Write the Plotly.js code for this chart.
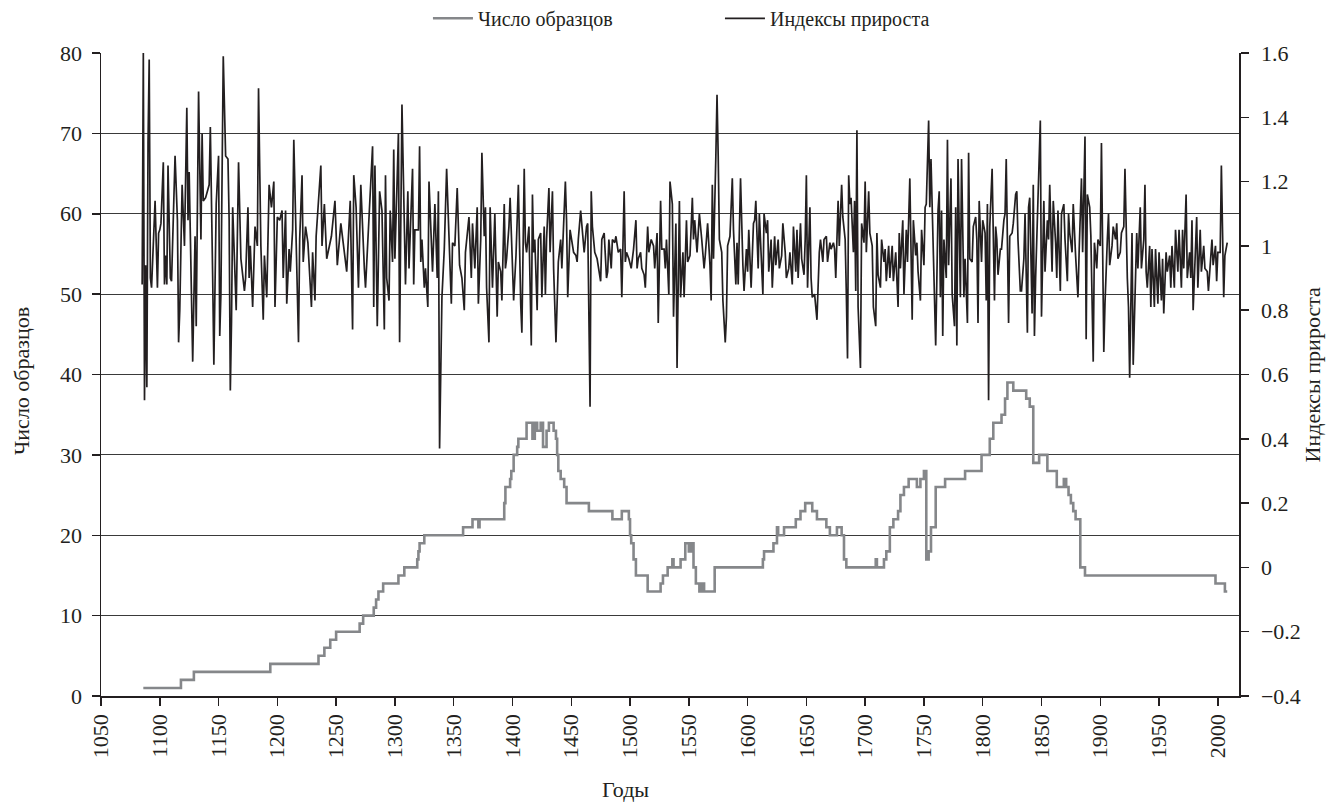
<!DOCTYPE html>
<html>
<head>
<meta charset="utf-8">
<script src="https://cdn.plot.ly/plotly-3.0.1.min.js"></script>
<style>html,body{margin:0;padding:0;background:#fff;}#chart{width:1328px;height:803px;}</style>
</head>
<body>
<div id="chart"></div>
<script>
// Sample count (step series, value holds until next change year)
const cntYears = [1086,1118,1129,1194,1235,1240,1245,1250,1270,1273,1282,1284,1286,1290,1303,1308,1319,1320,1321,1325,1358,1366,1371,1372,
1393,1394,1398,1399,1401,1404,1405,1412,1417,1419,1421,1424,1426,1429,1431,1435,1437,1438,1439,1441,1444,1446,1465,1485,1493,1499,1500,1501,1503,1505,1515,1526,1528,1532,1536,1537,1543,1547,1550,1552,1554,1556,1559,1561,1563,1572,
1613,1614,1622,1625,1626,1631,1641,1645,1649,1655,1659,1667,1670,1676,1680,1682,1684,1709,1710,1716,1718,1721,1724,1728,1730,1733,1737,1744,1747,1750,1752,1754,1756,1760,1768,1785,1799,1806,1809,1816,1819,1821,1826,1837,1840,1843,1848,1855,1863,1869,1871,1873,1875,1877,1879,1883,1887,1998,2006,2008];
const cntValues = [1,2,3,4,5,6,7,8,9,10,11,12,13,14,15,16,17,18,19,20,21,22,21,22,
24,26,27,28,30,31,32,34,32,34,33,34,31,33,34,33,32,30,28,27,26,24,23,22,23,22,20,19,17,15,13,14,15,16,17,16,17,19,18,19,16,14,13,14,13,16,
17,18,19,21,20,21,22,23,24,23,22,21,20,21,20,17,16,17,16,17,18,21,22,23,25,26,27,26,27,28,17,18,21,26,27,28,30,32,34,35,37,39,38,37,36,29,30,28,26,27,26,25,24,23,22,16,15,14,13,13];

// Growth indices (years and values read at the turning points of the curve)
const idxYears = [1085,1086,1087,1088,1089,1090,1091,1092,1093,1096,1098,1099,1100,1101,1103,1104,1105,1106,1107,1109,1110,1113,1115,1116,1117,1119,1121,1123,1124,1125,1128,1130,1131,1133,1135,1136,1137,1139,1142,1143,1145,1146,1148,1150,1151,1152,1154,1156,1158,1159,1160,1161,1162,1165,1167,1169,1172,1173,1175,1176,1177,1179,1181,1183,1184,1186,1188,1189,1191,1193,1195,1197,1198,1200,1202,1204,1205,1207,1208,1210,1211,1213,1214,1216,1218,1219,1221,1222,1224,1226,1229,1230,1232,1233,1237,1238,1240,1242,1246,1249,1251,1254,1256,1259,1262,1264,1265,1267,1269,1271,1274,1275,1281,1282,1283,1285,1287,1289,1291,1292,1293,1295,1296,1298,1299,1300,1303,1304,1306,1308,1309,
1311,1312,1315,1316,1317,1320,1321,1322,1323,1325,1326,1328,1329,1331,1332,1334,1336,1337,1338,1340,1342,1344,1345,1346,1348,1349,1351,1353,1355,1357,1359,1360,1361,1363,1365,1366,1368,1370,1371,1373,1374,1376,1377,1378,1380,1381,1383,1385,1387,1388,1390,1391,1393,1394,1395,1397,1398,1400,1401,1403,1405,1407,1408,1410,1411,1412,1414,1416,1417,1418,1419,1421,1422,1424,1425,1427,1428,1429,1431,1432,1434,1435,1437,1439,1441,1442,1444,1445,1446,1447,1449,1451,1452,1454,1455,1456,1458,1461,1463,1464,1466,1467,1468,1470,1472,1475,1476,1478,1480,1481,1482,1484,1485,1487,1488,1490,1492,1493,1495,1496,1497,1499,1501,1503,1505,1506,1507,1509,1510,1512,1513,1515,1516,1518,1520,1521,1523,1524,1526,1527,1529,1530,1531,1533,1534,1536,1537,1539,1540,
1542,1543,1545,1546,1548,1549,1551,1553,1554,1555,1557,1559,1561,1563,1564,1566,1568,1569,1570,1571,1573,1574,1575,1576,1578,1579,1581,1582,1583,1585,1587,1588,1590,1591,1592,1594,1596,1597,1599,1600,1601,1603,1605,1606,1607,1609,1610,1611,1613,1614,1616,1617,1618,1620,1621,1623,1624,1626,1627,1629,1630,1632,1633,1635,1636,1638,1639,1641,1642,1643,1645,1646,1648,1649,1650,1651,1653,1654,1655,1657,1658,1659,1661,1662,1664,1665,1667,1668,1670,1671,1673,1674,1675,1677,1678,1680,1681,1683,1684,1685,1686,1687,1688,1690,1691,1692,1693,1694,1696,1697,1699,1700,1701,1703,1704,1706,1707,1709,1710,1711,1713,1714,1716,1717,1718,1720,1721,1723,1724,1726,1728,1729,1730,1732,1733,1735,1736,1738,1740,1741,1743,1744,1745,1747,1748,1750,1751,1752,1754,1755,1756,1757,1759,1760,1762,1763,1764,1765,1766,1767,1769,1770,1771,
1773,1774,1776,1777,1778,1779,1781,1782,1784,1785,1787,1788,1789,1791,1792,1794,1795,1796,1797,1799,1800,1802,1803,1804,1805,1806,1808,1810,1811,1812,1813,1815,1816,1818,1819,1820,1822,1823,1825,1826,1828,1829,1830,1832,1833,1835,1836,1838,1839,1840,1842,1843,1844,1845,1846,1847,1849,1850,1852,1853,1855,1856,1857,1859,1860,1862,1863,1864,1866,1867,1869,1870,1872,1873,1874,1876,1877,1879,1881,1882,1884,1885,1887,1888,1889,1891,1892,1894,1895,1897,1898,1900,1901,1903,1904,1906,1907,1908,1910,1911,1913,1914,1915,1917,1918,1920,1921,1923,1924,1925,1927,1928,1930,1931,1932,1934,1935,1937,1938,1939,1940,1942,1943,1944,1946,1947,1949,1950,1952,1953,1954,1956,1957,1959,1960,1961,1963,1964,1966,1967,1969,1970,1971,1973,1974,1976,1977,1978,1979,1981,1982,1983,1985,1986,1988,1989,1991,1992,1993,1995,1996,1998,1999,2000,2002,2003,2005,2006,2008];
const idxValues = [0.88,1.60,0.52,0.94,0.56,1.32,1.58,0.90,0.87,1.14,0.87,1.04,1.05,1.07,1.26,0.88,0.97,0.88,1.25,0.90,0.89,1.28,1.08,0.70,0.80,1.19,1.00,1.43,1.08,1.23,0.64,1.03,0.75,1.48,1.02,1.35,1.14,1.15,1.19,1.37,0.90,0.63,1.13,1.28,0.72,0.85,1.59,1.28,1.27,1.08,0.55,0.76,1.12,0.80,1.26,0.96,0.86,0.90,1.12,0.90,1.00,0.81,1.06,1.00,1.49,1.00,0.77,0.97,0.84,1.19,1.12,1.20,0.81,1.09,1.08,1.11,0.90,1.11,0.82,0.99,0.92,1.05,1.33,1.02,0.70,1.02,1.22,0.95,1.06,1.01,0.81,0.98,0.83,1.03,1.25,1.00,1.13,0.96,1.03,1.14,0.94,1.07,1.01,0.92,1.14,0.74,1.22,1.12,0.87,1.19,0.93,0.87,1.31,0.81,1.25,0.75,1.17,1.11,0.74,1.22,0.90,0.83,1.11,0.95,1.30,0.96,1.35,0.70,1.44,1.07,0.88,
1.17,0.93,1.24,0.88,1.05,1.05,1.31,0.95,1.02,0.87,0.93,0.81,1.20,1.01,0.92,1.13,0.90,1.17,0.37,0.84,0.99,1.24,1.12,0.99,0.82,1.01,1.00,1.18,0.94,0.90,0.80,0.98,1.02,1.09,0.90,1.07,0.93,1.12,0.82,1.02,1.29,1.03,1.12,0.87,0.70,1.12,0.87,1.10,0.78,0.95,0.92,0.83,1.13,0.93,0.96,1.06,1.15,0.93,0.83,0.97,1.19,0.82,0.73,1.24,1.01,0.98,1.06,0.69,1.16,0.98,1.02,0.80,1.02,1.04,0.84,1.06,0.85,1.02,1.18,0.98,1.17,0.93,0.70,0.95,1.02,0.93,1.12,1.20,1.08,0.84,1.05,1.01,0.98,0.97,0.95,1.02,1.11,0.98,1.06,1.07,0.50,1.17,1.06,0.98,0.96,0.89,1.02,1.04,0.90,0.92,1.02,0.93,1.02,1.01,1.03,0.98,0.99,0.84,1.17,0.95,0.98,0.96,0.93,0.99,1.08,0.93,0.96,0.98,0.93,0.91,0.87,1.06,0.98,1.02,1.00,0.93,1.04,0.76,1.14,0.99,0.99,0.93,1.02,0.85,1.20,1.13,0.78,1.07,0.62,
1.14,0.84,0.98,0.84,1.08,0.95,0.97,1.15,1.02,1.08,0.98,1.10,1.02,0.93,0.97,1.07,0.94,0.83,1.19,0.96,1.28,1.47,1.28,1.02,0.98,0.83,0.70,0.78,1.00,1.03,1.21,1.05,0.88,1.01,0.88,1.21,0.94,0.86,0.99,0.92,1.05,0.87,1.07,1.08,1.14,0.93,1.10,1.02,0.85,1.10,1.04,1.08,0.92,1.02,0.87,1.03,0.94,1.02,0.93,0.97,1.07,0.98,0.90,0.93,0.98,0.88,1.06,0.92,1.05,0.90,1.07,0.96,0.91,1.02,1.22,0.87,1.12,0.90,0.84,0.85,0.81,0.77,0.98,1.02,0.95,1.02,1.03,0.95,1.01,0.99,1.01,0.99,0.90,1.14,1.00,1.19,1.09,1.02,0.85,0.65,1.22,1.13,1.15,0.98,1.14,0.86,1.36,0.81,0.62,1.07,1.01,1.20,0.98,1.17,1.04,1.00,0.81,0.75,1.04,0.91,0.87,1.02,0.95,0.99,0.89,1.00,0.90,1.00,0.89,0.98,0.81,1.04,0.93,1.08,0.85,1.05,0.95,1.21,0.77,1.08,0.97,1.01,0.92,0.83,1.05,0.94,1.12,1.13,1.39,1.12,1.27,1.12,0.85,0.69,1.11,1.17,0.84,1.11,0.72,1.02,0.90,1.33,0.94,
1.21,0.85,0.75,1.12,0.69,1.27,0.84,1.27,0.84,0.96,0.76,1.29,0.96,0.95,1.06,1.09,1.02,0.76,1.14,0.95,1.08,1.04,0.83,1.13,0.52,1.06,1.24,0.83,1.06,1.02,0.91,0.99,0.99,1.08,1.10,1.27,0.76,1.03,1.04,1.07,1.16,1.17,1.02,0.86,0.86,0.96,1.10,0.73,1.12,1.15,0.79,1.19,0.72,0.90,1.03,1.19,1.39,0.78,1.14,0.92,1.08,1.02,1.19,0.92,1.14,1.01,0.90,1.11,0.86,1.10,1.13,1.02,0.89,1.10,1.04,0.98,1.13,0.97,0.84,0.98,1.21,0.98,1.34,0.71,1.16,1.12,1.03,0.64,1.01,0.93,1.02,1.00,1.32,0.67,0.82,1.02,1.10,0.94,1.00,1.06,1.02,1.07,0.96,0.98,1.04,1.06,1.24,0.90,0.81,0.59,1.04,0.63,0.97,1.04,0.93,1.12,0.93,1.02,1.19,0.92,0.87,1.00,0.81,0.99,0.81,0.99,0.82,0.98,0.83,0.96,0.79,0.98,0.92,0.97,0.87,1.00,0.87,1.05,0.92,1.05,0.87,1.05,0.93,1.16,0.90,0.98,0.90,1.08,0.80,1.00,1.09,0.87,1.05,0.92,1.00,0.93,0.92,0.86,0.92,1.02,0.94,1.00,0.89,0.98,0.98,1.25,0.84,0.97,1.01];

// Axis tick settings
const xTickStart = 1050, xTickStep = 50;
const yLeftStep = 10, yRightStep = 0.2;

const INK = '#231f20';
const FONT = 'Liberation Serif, "Times New Roman", serif';

const traces = [
  {
    x: cntYears, y: cntValues, type: 'scatter', mode: 'lines',
    line: {shape: 'hv', color: '#85878a', width: 2.6},
    name: 'Число образцов', yaxis: 'y'
  },
  {
    x: idxYears, y: idxValues, type: 'scatter', mode: 'lines',
    line: {color: INK, width: 1.7},
    name: 'Индексы прироста', yaxis: 'y2'
  }
];

const layout = {
  width: 1328, height: 803,
  margin: {l: 101, r: 89, t: 53, b: 107, pad: 0, autoexpand: false},
  paper_bgcolor: '#ffffff', plot_bgcolor: '#ffffff',
  font: {family: FONT, color: INK, size: 20},
  showlegend: true,
  legend: {
    orientation: 'h', x: 0.2873, xanchor: 'left', y: 1.054, yanchor: 'middle',
    font: {family: FONT, size: 20, color: INK}, entrywidth: 237, itemwidth: 40,
    bgcolor: 'rgba(0,0,0,0)'
  },
  xaxis: {
    range: [1050, 2018], tick0: xTickStart, dtick: xTickStep, tickangle: -90,
    ticks: 'outside', ticklen: 8, tickwidth: 1.5, tickcolor: INK,
    showline: true, linecolor: INK, linewidth: 1.5, showgrid: false, zeroline: false,
    tickfont: {family: FONT, size: 22, color: INK}
  },
  yaxis: {
    range: [0, 80], tick0: 0, dtick: yLeftStep,
    ticks: 'outside', ticklen: 8, tickwidth: 1.5, tickcolor: INK, ticklabelstandoff: 5,
    showline: true, linecolor: INK, linewidth: 1.5,
    showgrid: true, gridcolor: '#3a3a3a', gridwidth: 1, zeroline: false,
    tickfont: {family: FONT, size: 22, color: INK}
  },
  yaxis2: {
    range: [-0.4, 1.6], tick0: -0.4, dtick: yRightStep, overlaying: 'y', side: 'right',
    ticks: 'outside', ticklen: 8, tickwidth: 1.5, tickcolor: INK, ticklabelstandoff: 8,
    showline: true, linecolor: INK, linewidth: 1.5, showgrid: false, zeroline: false,
    tickfont: {family: FONT, size: 22, color: INK}
  },
  annotations: [
    {text: 'Число образцов', xref: 'paper', yref: 'paper', x: -0.0694, y: 0.49,
     xanchor: 'center', yanchor: 'middle', textangle: -90, showarrow: false,
     font: {family: FONT, size: 22, color: INK}},
    {text: 'Индексы прироста', xref: 'paper', yref: 'paper', x: 1.065, y: 0.5,
     xanchor: 'center', yanchor: 'middle', textangle: -90, showarrow: false,
     font: {family: FONT, size: 22, color: INK}},
    {text: 'Годы', xref: 'paper', yref: 'paper', x: 0.4605, y: -0.146,
     xanchor: 'center', yanchor: 'middle', showarrow: false,
     font: {family: FONT, size: 22, color: INK}}
  ]
};

Plotly.newPlot('chart', traces, layout, {displayModeBar: false, staticPlot: true});
</script>
</body>
</html>
